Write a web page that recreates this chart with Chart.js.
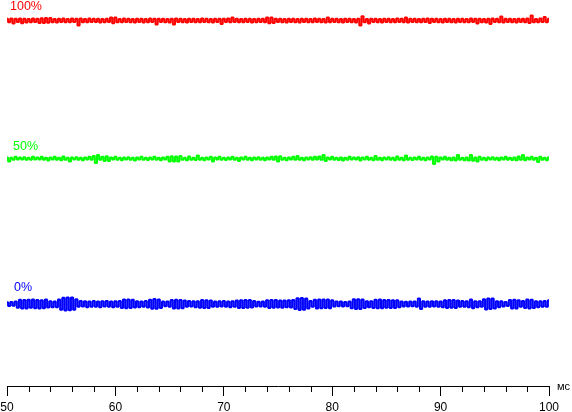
<!DOCTYPE html>
<html>
<head>
<meta charset="utf-8">
<script src="https://cdn.jsdelivr.net/npm/chart.js@4.4.1/dist/chart.umd.min.js"></script>
<style>
html, body { margin: 0; padding: 0; background: #fff; }
#wrap { width: 572px; height: 412px; }
</style>
</head>
<body>
<div id="wrap"><canvas id="scope"></canvas></div>
<script>
// sample grid, ms
const timeStart = 50;
const timeStep = 0.2;

const xTicks = [50, 60, 70, 80, 90, 100];
const minorTicks = [52, 54, 56, 58, 62, 64, 66, 68, 72, 74, 76, 78, 82, 84, 86, 88, 92, 94, 96, 98];

const traceNames = ["100%", "50%", "0%"];
const traceLevels = [100, 51.3, 0];

// deviations from each trace level
const red = [
  0.6,-0.6,0.7,-1.05,0.6,-0.5,0.7,-1.0,0.6,-0.7,
  0.5,-0.6,0.7,-0.5,0.6,-0.9,0.8,-0.9,0.9,-0.8,
  0.9,-0.6,0.5,-0.7,0.6,-0.5,0.7,-0.6,0.5,-0.6,
  0.7,-0.5,0.6,-1.75,0.7,-0.6,0.5,-0.6,0.7,-0.5,
  0.6,-0.5,0.6,-0.7,0.5,-0.6,0.6,-0.5,1.05,-1.0,
  1.05,-0.6,0.5,-0.6,0.7,-0.5,0.6,-0.6,0.5,-0.7,
  0.6,-0.5,0.6,-0.7,0.5,-0.6,0.7,-0.5,0.6,-1.4,
  0.6,-0.5,0.6,-0.6,0.5,-0.7,0.6,-1.4,0.7,-0.5,
  0.6,-0.6,0.5,-0.7,0.6,-0.5,0.6,-0.6,0.5,-0.6,
  0.7,-0.5,0.6,-0.6,0.5,-0.7,0.6,-0.5,0.6,-1.25,
  0.6,-0.5,0.7,-0.6,1.05,-0.5,0.6,-0.6,0.5,-0.6,
  0.6,-0.5,0.6,-0.7,0.5,-0.6,0.6,-0.5,0.6,-0.6,
  1.05,-1.0,1.05,-0.9,0.6,-0.5,0.6,-0.6,0.5,-0.7,
  0.6,-0.5,0.6,-0.6,0.5,-0.7,0.6,-0.5,0.6,-0.6,
  0.5,-0.6,0.7,-0.5,0.6,-0.6,0.5,-0.7,1.05,-0.6,
  0.6,-0.5,0.6,-0.6,0.5,-0.7,0.6,-0.5,0.6,-0.6,
  0.5,-0.7,0.6,-1.75,1.5,-0.6,0.5,-1.05,0.6,-0.5,
  0.6,-0.6,0.5,-0.7,0.6,-0.5,0.6,-0.6,0.5,-0.6,
  0.7,-0.5,0.6,-0.6,1.05,-0.7,0.6,-0.5,0.6,-0.6,
  0.5,-0.6,0.6,-0.5,0.7,-0.9,0.6,-0.5,0.6,-0.6,
  0.5,-0.7,0.6,-0.5,0.6,-0.6,0.5,-0.7,0.6,-0.5,
  0.6,-0.6,0.5,-0.6,0.7,-0.5,0.6,-1.05,0.6,-0.6,
  0.5,-0.7,0.6,-1.25,0.7,-0.5,0.6,-0.6,1.4,-0.7,
  0.6,-0.5,0.6,-0.6,0.5,-0.7,0.6,-0.5,0.6,-0.6,
  0.7,-0.9,1.75,-0.6,0.5,-0.6,0.7,-0.5,1.25,-0.6,
  0.6
];

const green = [
  0.4,-1.05,0.3,-0.4,0.6,-0.3,0.4,-0.3,0.5,-0.4,
  0.3,-0.4,0.6,-0.3,0.4,-0.3,0.6,-0.4,0.3,-0.7,
  0.4,-0.3,0.6,-0.4,0.3,-0.6,0.7,-0.4,0.3,-1.05,
  0.4,-0.3,0.5,-0.4,0.3,-0.6,0.4,-0.3,0.6,-0.4,
  0.9,-1.6,1.3,-0.4,0.6,-0.9,0.8,-0.9,0.4,-0.3,
  0.6,-0.4,0.3,-0.6,0.4,-0.3,0.5,-0.4,0.3,-0.7,
  0.4,-0.3,0.6,-0.4,0.3,-0.5,0.4,-0.3,0.6,-0.4,
  0.3,-0.6,0.4,-0.3,0.6,-1.05,0.8,-1.0,0.7,-1.05,
  0.9,-0.4,0.3,-0.6,0.7,-0.4,0.3,-0.5,1.05,-0.4,
  0.3,-0.6,0.4,-0.3,0.6,-1.05,0.4,-0.3,0.6,-0.4,
  0.3,-0.5,0.4,-0.3,0.6,-0.4,0.3,-0.9,0.4,-0.3,
  0.6,-0.4,0.3,-0.6,0.4,-0.3,0.5,-0.4,0.3,-0.6,
  0.4,-0.3,0.6,-0.4,0.7,-1.05,0.8,-0.4,0.3,-0.6,
  0.4,-0.3,0.6,-0.4,0.9,-0.4,0.3,-0.6,0.4,-0.3,
  0.5,-0.4,0.6,-0.3,0.7,-0.4,1.25,-0.9,0.4,-0.3,
  0.6,-0.4,0.3,-0.5,0.4,-0.7,0.3,-0.4,0.6,-0.3,
  0.4,-0.3,0.5,-0.7,0.4,-0.3,0.6,-0.4,0.3,-0.6,
  0.9,-0.4,0.3,-0.6,0.4,-0.3,0.5,-0.4,0.3,-0.6,
  0.7,-0.4,0.3,-0.6,1.05,-0.4,0.3,-0.5,0.4,-0.3,
  0.6,-0.4,0.3,-0.6,0.4,-0.3,0.7,-1.95,0.6,-1.05,
  0.4,-0.3,0.6,-0.4,0.3,-0.6,0.4,-0.7,1.25,-0.4,
  0.3,-0.6,0.4,-0.7,1.25,-0.8,0.4,-1.05,0.6,-0.4,
  0.3,-0.6,0.4,-0.3,0.5,-0.4,0.3,-0.6,0.4,-0.3,
  0.6,-0.4,0.3,-0.5,0.4,-0.6,0.7,-0.4,1.25,-0.6,
  0.4,-0.3,0.6,-0.4,0.3,-1.25,0.6,-0.4,0.3,-0.6,
  0.5
];

const blue = [
  0.6,-0.7,0.7,-0.6,0.9,-1.3,1.5,-1.6,1.4,-1.6,
  1.5,-1.3,1.6,-1.5,1.4,-1.6,1.3,-1.5,1.6,-1.2,
  1.0,-1.1,0.9,-1.1,1.6,-2.0,2.2,-2.3,2.3,-2.2,
  2.3,-2.0,1.7,-1.0,1.1,-0.9,1.0,-1.1,0.9,-1.0,
  1.1,-1.0,0.9,-1.1,1.0,-0.9,1.1,-1.0,0.9,-1.1,
  1.0,-1.0,1.1,-1.4,1.6,-1.5,1.6,-1.4,1.5,-1.2,
  1.0,-1.1,0.9,-1.0,1.1,-1.2,1.5,-1.7,1.8,-1.7,
  1.6,-1.4,0.9,-0.8,0.9,-1.0,1.4,-1.6,1.5,-1.6,
  1.4,-1.5,1.2,-1.0,1.1,-0.9,1.0,-1.1,1.0,-1.3,
  1.4,-1.4,1.3,-1.4,1.2,-1.0,0.9,-1.0,1.0,-0.9,
  1.1,-1.0,0.9,-1.1,1.0,-1.0,1.2,-1.4,1.3,-1.4,
  1.4,-1.3,1.4,-1.2,1.1,-0.9,0.8,-0.9,0.9,-1.0,
  1.3,-1.4,1.4,-1.3,1.4,-1.2,1.2,-1.3,1.2,-1.1,
  1.3,-1.2,1.4,-1.8,2.0,-2.1,2.1,-2.0,1.9,-1.6,
  1.1,-1.0,1.5,-1.6,1.6,-1.5,1.6,-1.4,1.6,-1.5,
  1.3,-0.9,0.9,-0.8,0.9,-0.9,0.7,-0.8,0.9,-1.5,
  1.7,-1.8,1.7,-1.8,1.6,-1.4,1.0,-1.1,1.0,-1.4,
  1.5,-1.5,1.6,-1.5,1.4,-1.3,1.4,-1.4,1.3,-1.4,
  1.3,-1.1,0.9,-0.9,0.8,-0.9,0.9,-0.8,0.9,-1.0,
  1.9,-1.8,1.0,-1.0,0.9,-1.0,1.0,-0.9,1.0,-1.0,
  0.9,-1.1,1.3,-1.4,1.4,-1.3,1.4,-1.4,1.2,-1.0,
  1.1,-1.0,1.0,-1.1,1.6,-1.5,1.0,-1.1,1.0,-1.0,
  1.7,-1.9,1.9,-1.8,1.9,-1.6,1.0,-1.1,1.0,-0.9,
  0.7,-0.7,1.4,-1.6,1.5,-1.6,1.3,-1.0,1.1,-1.4,
  1.6,-1.6,1.5,-1.4,1.0,-1.1,1.0,-1.0,1.1,-1.0,
  1.3
];

const traces = [red, green, blue];
const colors = ["#ff0000", "#00ff00", "#0000ff"];
const FONT = "'Liberation Sans', Arial, sans-serif";

const datasets = traces.map((trace, k) => ({
  label: traceNames[k],
  data: trace.map((v, i) => ({ x: timeStart + i * timeStep, y: traceLevels[k] + v })),
  borderColor: colors[k],
  borderWidth: 2,
  borderJoinStyle: "bevel",
  stepped: "middle",
  pointRadius: 0,
  clip: false
}));

// minor ticks, trace names and the unit label
const extras = {
  id: "extras",
  afterDraw(chart) {
    const ctx = chart.ctx;
    const xs = chart.scales.x, ys = chart.scales.y;
    const base = chart.chartArea.bottom;
    ctx.save();
    ctx.strokeStyle = "#000";
    ctx.lineWidth = 1;
    ctx.beginPath();
    minorTicks.forEach(v => {
      const px = Math.round(xs.getPixelForValue(v)) + 0.5;
      ctx.moveTo(px, base);
      ctx.lineTo(px, base + 6);
    });
    ctx.stroke();

    ctx.textBaseline = "alphabetic";
    ctx.fillStyle = "#000";
    ctx.font = "11px " + FONT;
    ctx.fillText("мс", xs.right + 8, base + 4);

    const nameDx = [3, 6, 7];
    const nameDy = [-10.5, -8.5, -13];
    ctx.font = "12.5px " + FONT;
    traceNames.forEach((name, k) => {
      ctx.fillStyle = colors[k];
      ctx.fillText(name, xs.getPixelForValue(timeStart) + nameDx[k],
        ys.getPixelForValue(traceLevels[k]) + nameDy[k]);
    });
    ctx.restore();
  }
};

new Chart(document.getElementById("scope"), {
  type: "line",
  data: { datasets },
  plugins: [extras],
  options: {
    responsive: true,
    maintainAspectRatio: false,
    animation: false,
    layout: { padding: { left: 7, right: 23, top: 0, bottom: 0 } },
    plugins: { legend: { display: false }, tooltip: { enabled: false } },
    scales: {
      x: {
        type: "linear",
        min: 50,
        max: 100,
        afterBuildTicks: scale => { scale.ticks = xTicks.map(v => ({ value: v })); },
        afterFit: scale => {
          scale.height = 26;
          scale.paddingLeft = 0;
          scale.paddingRight = 0;
        },
        ticks: { color: "#000", font: { family: FONT, size: 12 }, padding: 4, maxRotation: 0 },
        grid: { drawOnChartArea: false, tickLength: 10, color: "#000" },
        border: { color: "#000", width: 1 }
      },
      y: {
        display: false,
        min: -28.92,
        max: 107.23
      }
    }
  }
});
</script>
</body>
</html>
